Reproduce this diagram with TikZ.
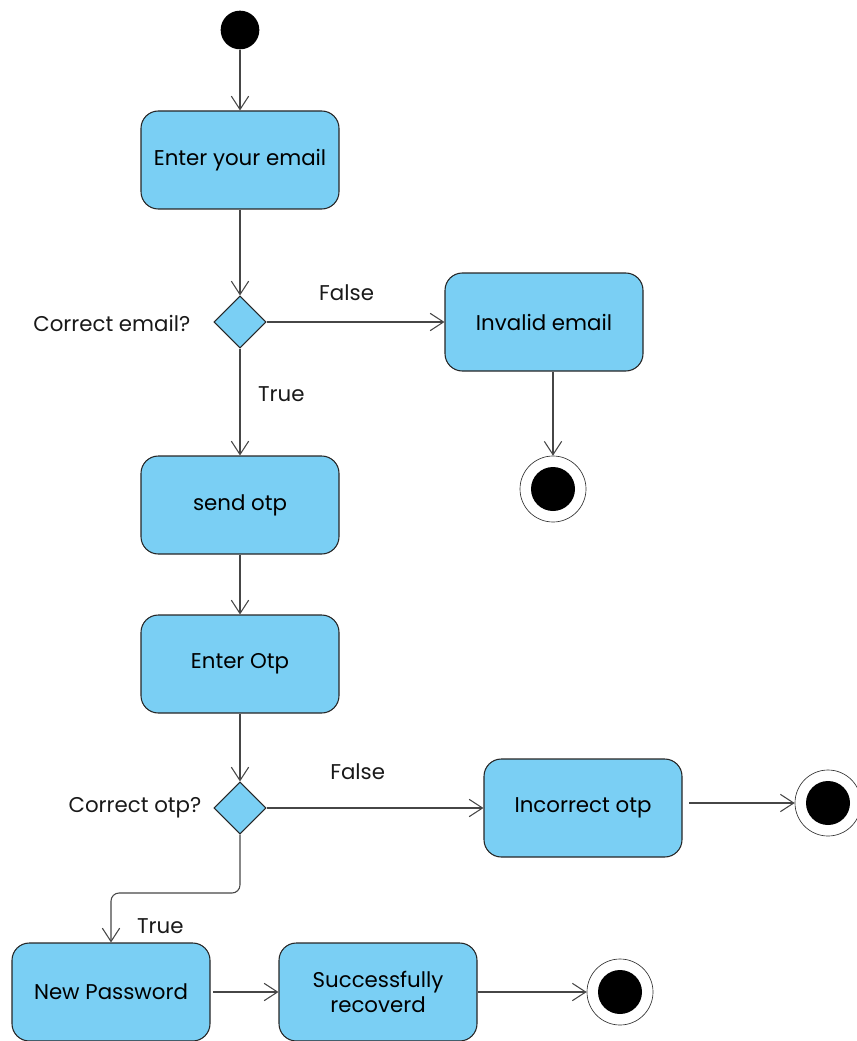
\documentclass[tikz,border=0pt]{standalone}
\usepackage{fontspec}
\setmainfont{Poppins}
\usetikzlibrary{arrows.meta,shapes.geometric}
\definecolor{actblue}{RGB}{122,207,244}
\definecolor{edgegray}{RGB}{70,70,70}
\tikzset{
  activity/.style={draw=black!85, line width=0.8pt, fill=actblue, rounded corners=13pt,
    minimum width=148.5pt, minimum height=73.5pt, align=center, inner sep=0pt},
  decision/.style={draw=black!85, line width=0.8pt, fill=actblue, diamond,
    minimum width=39pt, minimum height=39pt, inner sep=0pt},
  initial/.style={circle, fill=black, minimum size=29pt, inner sep=0pt},
  final/.style={circle, draw=black!80, line width=0.5pt, fill=white, minimum size=49.5pt, inner sep=0pt,
    path picture={\fill[black] (path picture bounding box.center) circle[radius=16.5pt];}},
  flow/.style={draw=edgegray, line width=0.8pt, -{Straight Barb[length=10pt,width=13pt]}},
  guard/.style={text=black!90}
}
\begin{document}
\begin{tikzpicture}[x=0.75pt,y=-0.75pt, font=\fontsize{16}{19}\selectfont]
    \useasboundingbox (0,0) rectangle (856,1041);
    \coordinate (bendA) at (0,893);
    % states
    \node[initial] (start) at (240,30) {};
    \node[activity] (email) at (240,160) {Enter your email};
    \node[decision] (chkmail) at (240,322) {};
    \node[guard, anchor=east] (chkmaillbl) at (195,323) {Correct email?};
    \node[activity] (invalid) at (544,322) {Invalid email};
    \node[final] (endA) at (553,489) {};
    \node[activity] (sendotp) at (240,505) {send otp};
    \node[activity] (enterotp) at (240,664) {Enter Otp};
    \node[decision] (chkotp) at (240,808) {};
    \node[guard, anchor=east] (chkotplbl) at (206,808) {Correct otp?};
    \node[activity] (incorrect) at (583,808) {Incorrect otp};
    \node[final] (endB) at (828,803) {};
    \node[activity] (newpw) at (111,992) {New Password};
    \node[activity] (success) at (378,992) {Successfully\\recoverd};
    \node[final] (endC) at (620,992) {};
    % transitions
    \draw[flow] (start) -- (email);
    \draw[flow] (email) -- (chkmail);
    \draw[flow] (chkmail) -- node[guard, pos=0.45, yshift=22pt] (falseA) {False} (invalid);
    \draw[flow] (chkmail) -- node[guard, pos=0.43, xshift=31pt] (trueA) {True} (sendotp);
    \draw[flow] (invalid.south -| endA) -- (endA);
    \draw[flow] (sendotp) -- (enterotp);
    \draw[flow] (enterotp) -- (chkotp);
    \draw[flow] (chkotp) -- node[guard, pos=0.42, yshift=27pt] (falseB) {False} (incorrect);
    \draw[flow, shorten <=5pt] (incorrect.east |- endB) -- (endB);
    \draw[flow, rounded corners=6pt] (chkotp.south) -- (chkotp |- bendA) -| (newpw.north)
        node[guard, pos=0.84, xshift=37pt] (trueB) {True};
    \draw[flow, shorten <=2pt] (newpw) -- (success);
    \draw[flow] (success) -- (endC);
  \end{tikzpicture}
\end{document}
